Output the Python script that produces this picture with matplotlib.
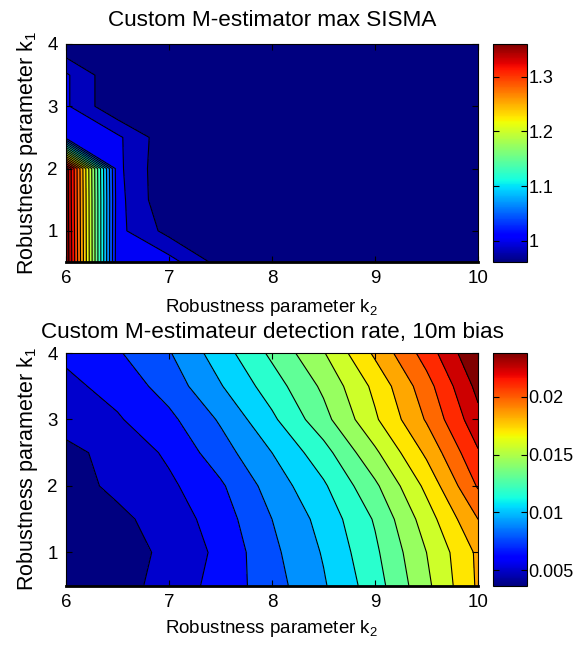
import numpy as np
import matplotlib
matplotlib.use("Agg")
import matplotlib.pyplot as plt
from matplotlib.colors import Normalize
from matplotlib.cm import ScalarMappable

plt.rcParams["font.family"] = ["Liberation Sans", "DejaVu Sans"]
plt.rcParams["mathtext.fontset"] = "custom"
plt.rcParams["mathtext.rm"] = "Liberation Sans"
plt.rcParams["mathtext.default"] = "regular"
plt.rcParams["font.size"] = 13.5

# Grid of robustness parameters
k2 = [6.0, 6.5, 7.0, 7.5, 8.0, 8.5, 9.0, 9.5, 10.0]
k1 = [0.5, 1.0, 1.5, 2.0, 2.5, 3.0, 3.5, 4.0]

# max SISMA, one row per k1 value
sisma = [
    [1.360, 1.005, 1.008, 0.972, 0.962, 0.962, 0.961, 0.961, 0.961],
    [1.358, 1.006, 0.973, 0.962, 0.962, 0.961, 0.961, 0.961, 0.961],
    [1.356, 1.007, 0.962, 0.962, 0.961, 0.961, 0.961, 0.961, 0.961],
    [1.355, 1.005, 0.962, 0.962, 0.961, 0.961, 0.961, 0.961, 0.961],
    [1.010, 1.004, 0.965, 0.962, 0.961, 0.961, 0.961, 0.961, 0.961],
    [1.003, 0.962, 0.961, 0.961, 0.961, 0.961, 0.961, 0.961, 0.961],
    [1.003, 0.962, 0.961, 0.961, 0.961, 0.961, 0.961, 0.961, 0.961],
    [0.962, 0.961, 0.961, 0.961, 0.961, 0.961, 0.961, 0.961, 0.961],
]

# detection rate with a 10 m bias, one row per k1 value
detect = [
    [0.00402, 0.00433, 0.00545, 0.00661, 0.00816, 0.00980, 0.01188, 0.01468, 0.01769],
    [0.00364, 0.00427, 0.00522, 0.00646, 0.00838, 0.01005, 0.01221, 0.01498, 0.01775],
    [0.00421, 0.00462, 0.00544, 0.00679, 0.00868, 0.01038, 0.01259, 0.01561, 0.01876],
    [0.00440, 0.00517, 0.00590, 0.00723, 0.00922, 0.01101, 0.01347, 0.01656, 0.02015],
    [0.00465, 0.00522, 0.00640, 0.00811, 0.00994, 0.01196, 0.01473, 0.01775, 0.02115],
    [0.00528, 0.00603, 0.00711, 0.00884, 0.01095, 0.01328, 0.01605, 0.01889, 0.02216],
    [0.00585, 0.00660, 0.00796, 0.00985, 0.01183, 0.01397, 0.01656, 0.01952, 0.02292],
    [0.00641, 0.00729, 0.00858, 0.01060, 0.01273, 0.01489, 0.01773, 0.02059, 0.02380],
]

sisma_ticks = [1.0, 1.1, 1.2, 1.3]
sisma_labels = ["1", "1.1", "1.2", "1.3"]
detect_ticks = [0.005, 0.01, 0.015, 0.02]
detect_labels = ["0.005", "0.01", "0.015", "0.02"]

fig = plt.figure(figsize=(5.76, 6.47), dpi=100)
ax1 = fig.add_axes([0.1146, 0.5951, 0.7153, 0.3369])
cax1 = fig.add_axes([0.8559, 0.5951, 0.059, 0.3369])
ax2 = fig.add_axes([0.1146, 0.0947, 0.7153, 0.3597])
cax2 = fig.add_axes([0.8559, 0.0947, 0.059, 0.3597])


def draw(ax, cax, z, levels, vmin, vmax, cticks, clabels, xpad):
    # matlab style: one jet colour per band, black contour lines
    band_colors = plt.cm.jet(np.linspace(0, 1, len(levels) - 1))
    ax.contourf(k2, k1, z, levels=levels, colors=band_colors)
    ax.contour(k2, k1, z, levels=levels[1:-1], colors="k", linewidths=0.8)
    ax.set_xlim(6, 10)
    ax.set_ylim(0.5, 4)
    ax.set_xticks([6, 7, 8, 9, 10])
    ax.set_yticks([1, 2, 3, 4])
    ax.tick_params(direction="in", top=True, right=True, length=4, pad=6)
    ax.spines["bottom"].set_linewidth(2)
    ax.set_xlabel("Robustness parameter k$_2$", labelpad=xpad)
    ax.set_ylabel("Robustness parameter k$_1$", labelpad=5, fontsize=15.5)

    sm = ScalarMappable(norm=Normalize(vmin, vmax), cmap="jet")
    cb = fig.colorbar(sm, cax=cax)
    cb.set_ticks(cticks)
    cb.set_ticklabels(clabels)
    cax.tick_params(direction="in", left=True, right=True, length=4, pad=1,
                    labelsize=13)


draw(ax1, cax1, sisma, np.linspace(0.96, 1.36, 21), 0.961, 1.36,
     sisma_ticks, sisma_labels, 7)
ax1.set_title("Custom M-estimator max SISMA", pad=13)

draw(ax2, cax2, detect, np.linspace(0.00364, 0.0238, 17), 0.00364, 0.0238,
     detect_ticks, detect_labels, 5)
ax2.set_title("Custom M-estimateur detection rate, 10m bias", pad=11)

fig.savefig("out.png", dpi=100)
